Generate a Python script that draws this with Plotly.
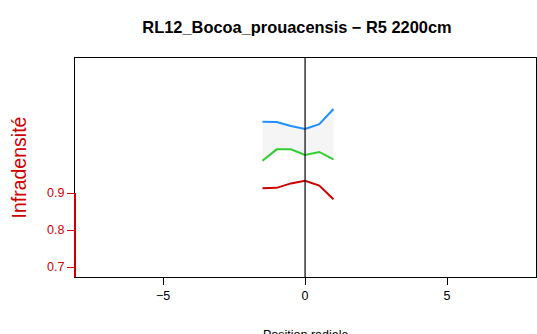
import plotly.graph_objects as go

positions = [-1.5, -1.0, -0.5, 0.0, 0.5, 1.0]
upper_vals = [1.093, 1.092, 1.081, 1.073, 1.086, 1.127]
middle_vals = [0.987, 1.018, 1.018, 1.003, 1.011, 0.991]
lower_vals = [0.913, 0.914, 0.926, 0.933, 0.920, 0.883]
x_ticks = [-5, 0, 5]
y_ticks = [0.7, 0.8, 0.9]

W, H = 537, 334
L, R, T, B = 75, 1, 58, 57
RED = "#CD0000"
XR = [-8.1, 8.13]
YR = [0.673, 1.265]

fig = go.Figure()
# band between middle and upper
fig.add_trace(go.Scatter(x=positions, y=middle_vals, mode="lines",
                         line=dict(width=0, color="rgba(0,0,0,0)"),
                         showlegend=False, hoverinfo="skip"))
fig.add_trace(go.Scatter(x=positions, y=upper_vals, mode="lines",
                         line=dict(width=0, color="rgba(0,0,0,0)"),
                         fill="tonexty", fillcolor="#F5F5F5",
                         showlegend=False, hoverinfo="skip"))
fig.add_trace(go.Scatter(x=positions, y=upper_vals, mode="lines",
                         line=dict(color="#1E90FF", width=2), showlegend=False))
fig.add_trace(go.Scatter(x=positions, y=middle_vals, mode="lines",
                         line=dict(color="#32CD32", width=2), showlegend=False))
fig.add_trace(go.Scatter(x=positions, y=lower_vals, mode="lines",
                         line=dict(color=RED, width=2), showlegend=False))

fig.add_shape(type="line", xref="x", yref="paper", x0=0, x1=0, y0=0, y1=1,
              line=dict(color="black", width=1.2))
fig.add_shape(type="line", xref="paper", yref="y", x0=0, x1=0, y0=0.9, y1=YR[0],
              line=dict(color=RED, width=2))

fig.update_layout(
    width=W, height=H,
    margin=dict(l=L, r=R, t=T, b=B, autoexpand=False),
    paper_bgcolor="white", plot_bgcolor="white",
    font=dict(family="Liberation Sans, Arial, sans-serif", size=12, color="black"),
    title=dict(text="<b>RL12_Bocoa_prouacensis − R5 2200cm</b>",
               x=297 / W, xanchor="center", y=1 - 27 / H, yanchor="middle",
               font=dict(size=16.4, color="black")),
    xaxis=dict(range=XR, tickvals=x_ticks, ticktext=["−5", "0", "5"],
               showgrid=False, zeroline=False, showline=True, mirror=True,
               linecolor="black", linewidth=1, ticks="outside", ticklen=7,
               tickcolor="black", tickfont=dict(size=12.5, color="black")),
    yaxis=dict(range=YR, tickvals=y_ticks, ticktext=["0.7", "0.8", "0.9"],
               showgrid=False, zeroline=False, showline=True, mirror=True,
               linecolor="black", linewidth=1, ticks="outside", ticklen=7,
               tickcolor=RED, tickfont=dict(size=12.5, color=RED)),
    annotations=[
        dict(text="Infradensité", xref="paper", yref="paper", x=0, y=0.5,
             xanchor="center", yanchor="middle", xshift=-(L - 18), textangle=-90,
             showarrow=False, font=dict(size=19.5, color=RED)),
        dict(text="Position radiale", xref="paper", yref="paper", x=0.5, y=0,
             xanchor="center", yanchor="top", yshift=-(326 - (H - B)),
             showarrow=False, font=dict(size=12.5, color="black")),
    ],
)

fig.write_html("out.html", config={"displayModeBar": False},
               post_script="document.body.style.margin='0';document.body.style.overflow='hidden';")
